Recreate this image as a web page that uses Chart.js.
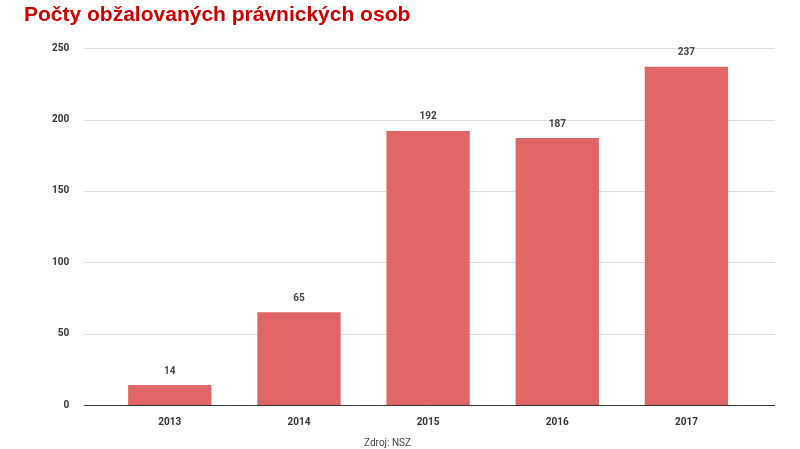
<!DOCTYPE html>
<html><head><meta charset="utf-8">
<script src="https://cdn.jsdelivr.net/npm/chart.js@4"></script>
<style>html,body{margin:0;padding:0;background:#fff}#w{width:800px;height:449px}</style>
</head><body><div id="w"><canvas id="c"></canvas></div>
<script>
const categories=["2013","2014","2015","2016","2017"];
const values=[14,65,192,187,237];
const yTicks=[0,50,100,150,200,250];
const labelPlugin={id:'lbl',
beforeDatasetsDraw(ch){const ctx=ch.ctx,a=ch.chartArea,y=ch.scales.y;ctx.save();ctx.lineWidth=1;
yTicks.forEach(v=>{const py=Math.round(y.getPixelForValue(v))+0.5;ctx.strokeStyle=v===0?'#333':'#ddd';ctx.beginPath();ctx.moveTo(a.left-21,py);ctx.lineTo(a.right+24,py);ctx.stroke();});ctx.restore();},
afterDatasetsDraw(ch){const ctx=ch.ctx;const m=ch.getDatasetMeta(0);ctx.save();ctx.font='bold 10px Roboto';ctx.fillStyle='#444';ctx.textAlign='center';ctx.textBaseline='bottom';m.data.forEach((b,i)=>{ctx.fillText(values[i],b.x,b.y-9);});ctx.restore();}};
new Chart(document.getElementById('c'),{type:'bar',
data:{labels:categories,datasets:[{data:values,backgroundColor:'#e06666',barPercentage:0.645,categoryPercentage:1}]},
options:{responsive:true,maintainAspectRatio:false,animation:false,
layout:{padding:{left:24,right:49,top:0,bottom:0}},
plugins:{legend:{display:false},tooltip:{enabled:false},
title:{display:true,text:'Počty obžalovaných právnických osob',align:'start',color:'#cc0000',font:{family:'Liberation Sans',size:21,weight:'bold'},padding:{top:3,bottom:20}},
subtitle:{display:true,position:'bottom',text:'Zdroj: NSZ',color:'#444',font:{family:'Roboto',size:10},padding:{top:6,bottom:0}}},
scales:{x:{grid:{display:false},border:{display:false},ticks:{color:'#333',font:{family:'Roboto',size:10,weight:'bold'}}},
y:{min:0,max:250,afterBuildTicks(a){a.ticks=yTicks.map(v=>({value:v}));},grid:{display:false},border:{display:false},ticks:{color:'#333',font:{family:'Roboto',size:10,weight:'bold'},padding:28}}}},
plugins:[labelPlugin]});
</script></body></html>
